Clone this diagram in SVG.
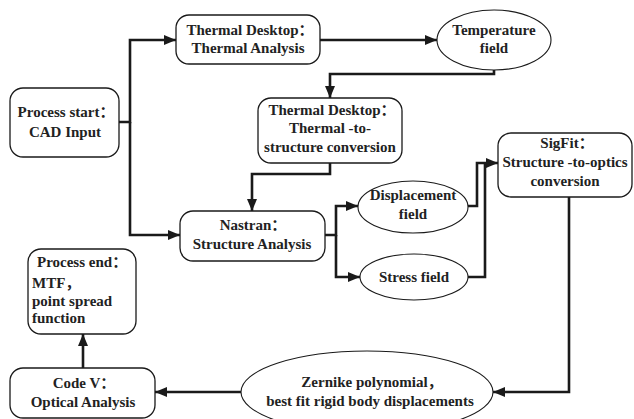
<svg xmlns="http://www.w3.org/2000/svg" width="634" height="419" viewBox="0 0 634 419">
<defs>
<marker id="arr" markerUnits="userSpaceOnUse" markerWidth="13" markerHeight="11" refX="12" refY="5" orient="auto">
<path d="M0,0 L12,5 L0,10 z" fill="#1a1a1a"/>
</marker>
<style>
.box{fill:#fff;stroke:#1a1a1a;stroke-width:1.3}
.ell{fill:#fff;stroke:#1a1a1a;stroke-width:1.1}
.c{fill:none;stroke:#1a1a1a;stroke-width:2.6}
.a{marker-end:url(#arr)}
text{font-family:"Liberation Serif","Noto Sans CJK SC",serif;font-weight:bold;font-size:15px;fill:#222}
.m{text-anchor:middle}
</style>
</defs>
<rect width="634" height="419" fill="#fff"/>
<g id="connectors">
<path class="c a" d="M119,122 H130 V40 H176"/>
<path class="c a" d="M130,122 V235 H180"/>
<path class="c a" d="M320,40 H437"/>
<path class="c a" d="M494,70 V74 H330 V98"/>
<path class="c a" d="M330,163 V174 H252 V211"/>
<path class="c a" d="M325,235 H336 V206 H358"/>
<path class="c a" d="M336,235 V277 H360"/>
<path class="c a" d="M468,206 H477 V163 H498"/>
<path class="c" d="M468,277 H485 V163"/>
<path class="c a" d="M569,197 V392 H493"/>
<path class="c a" d="M241,392 H155"/>
<path class="c a" d="M83,368 V334"/>
</g>
<g id="start">
<rect class="box" x="10" y="88" width="109" height="69" rx="13"/>
<text class="m" x="66" y="117">Process start：</text>
<text class="m" x="65" y="137">CAD Input</text>
</g>
<g id="thermal-analysis">
<rect class="box" x="176" y="15" width="144" height="49" rx="13"/>
<text class="m" x="250" y="35">Thermal Desktop：</text>
<text class="m" x="248" y="53">Thermal Analysis</text>
</g>
<g id="temperature">
<ellipse class="ell" cx="494" cy="40" rx="57" ry="30"/>
<text class="m" x="494" y="35">Temperature</text>
<text class="m" x="494" y="53">field</text>
</g>
<g id="thermal-structure">
<rect class="box" x="258" y="98" width="144" height="65" rx="13"/>
<text class="m" x="332" y="115">Thermal Desktop：</text>
<text class="m" x="330" y="133">Thermal -to-</text>
<text class="m" x="330" y="152">structure conversion</text>
</g>
<g id="nastran">
<rect class="box" x="180" y="211" width="145" height="50" rx="13"/>
<text class="m" x="253" y="230">Nastran：</text>
<text class="m" x="252" y="249">Structure Analysis</text>
</g>
<g id="displacement">
<ellipse class="ell" cx="413" cy="207" rx="55" ry="26"/>
<text class="m" x="413" y="200">Displacement</text>
<text class="m" x="413" y="219">field</text>
</g>
<g id="stress">
<ellipse class="ell" cx="414" cy="277" rx="54" ry="23"/>
<text class="m" x="414" y="282">Stress field</text>
</g>
<g id="sigfit">
<rect class="box" x="498" y="133" width="134" height="64" rx="13"/>
<text class="m" x="567" y="148">SigFit：</text>
<text class="m" x="565" y="167">Structure -to-optics</text>
<text class="m" x="565" y="186">conversion</text>
</g>
<g id="zernike">
<ellipse class="ell" cx="367" cy="392" rx="126" ry="41"/>
<text class="m" x="372" y="387">Zernike polynomial，</text>
<text class="m" x="370" y="406">best fit rigid body displacements</text>
</g>
<g id="codev">
<rect class="box" x="10" y="368" width="145" height="50" rx="13"/>
<text class="m" x="84" y="388">Code V：</text>
<text class="m" x="83" y="407">Optical Analysis</text>
</g>
<g id="end">
<rect class="box" x="28" y="249" width="108" height="85" rx="13"/>
<text x="37" y="267">Process end：</text>
<text x="32" y="288">MTF，</text>
<text x="32" y="306">point spread</text>
<text x="32" y="323">function</text>
</g>
</svg>
